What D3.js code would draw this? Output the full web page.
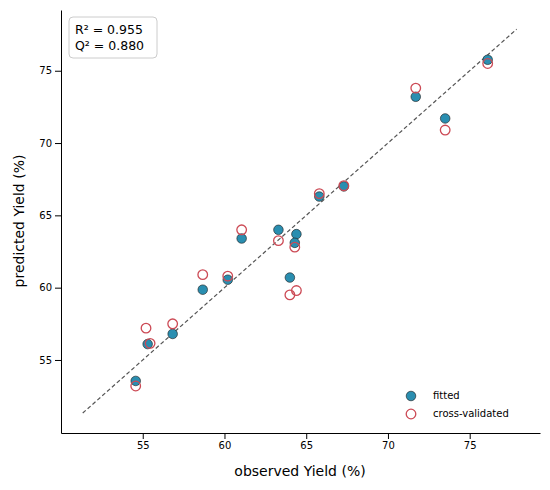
<!DOCTYPE html><html><head><meta charset="utf-8"><script src="https://cdn.jsdelivr.net/npm/d3@7"></script>
<style>body{margin:0;background:#fff}text{font-family:"DejaVu Sans",sans-serif}</style></head><body><svg id="c" width="550" height="490"></svg>
<script>
const observed=[54.57,55.3,56.83,58.67,60.2,61.05,63.3,64.4,64.3,64.0,65.8,67.3,71.7,73.5,76.1];
const fitted=[53.55,56.1,56.8,59.86,60.55,63.4,64.0,63.7,63.1,60.7,66.3,67.0,73.2,71.7,75.76];
const crossval=[53.2,57.2,57.5,60.9,60.8,64.0,63.25,59.8,62.8,59.5,66.5,67.05,73.8,70.9,75.5];
const observedCV=[54.57,55.2,56.83,58.67,60.2,61.05,63.3,64.4,64.3,64.0,65.8,67.3,71.7,73.5,76.1];
const extraObs=[55.45],extraCV=[56.15];
const xTicks=[55,60,65,70,75],yTicks=[55,60,65,70,75];
const svg=d3.select("#c");
const x=d3.scaleLinear().domain([50.0,79.3]).range([61,540]);
const y=d3.scaleLinear().domain([49.95,79.2]).range([433,10]);
svg.append("g").attr("transform","translate(0,433)").call(d3.axisBottom(x).tickValues(xTicks).tickSizeOuter(0)).call(g=>g.selectAll("text").attr("font-size",10).attr("fill","#000"));
svg.append("g").attr("transform","translate(61,0)").call(d3.axisLeft(y).tickValues(yTicks).tickSizeOuter(0)).call(g=>g.selectAll("text").attr("font-size",10).attr("fill","#000"));
svg.append("line").attr("x1",x(51.33)).attr("y1",y(51.33)).attr("x2",x(77.87)).attr("y2",y(77.87)).attr("stroke","#555").attr("stroke-dasharray","4,2.5").attr("stroke-width",1.2);
svg.selectAll(".f").data(observed).join("circle").attr("cx",d=>x(d)).attr("cy",(d,i)=>y(fitted[i])).attr("r",4.8).attr("fill","#2a8eb0").attr("stroke","#1a1a1a").attr("stroke-width",0.6);
const cvx=observedCV.concat(extraObs),cvy=crossval.concat(extraCV);
svg.selectAll(".v").data(cvx).join("circle").attr("cx",d=>x(d)).attr("cy",(d,i)=>y(cvy[i])).attr("r",4.8).attr("fill","none").attr("stroke","#cc4a55").attr("stroke-width",1.3);
svg.append("text").attr("x",300).attr("y",476).attr("text-anchor","middle").attr("font-size",14).text("observed Yield (%)");
svg.append("text").attr("transform","translate(24,221) rotate(-90)").attr("text-anchor","middle").attr("font-size",14).text("predicted Yield (%)");
svg.append("rect").attr("x",69).attr("y",17).attr("width",88).attr("height",41).attr("rx",4).attr("fill","#fff").attr("stroke","#ccc");
svg.append("text").attr("x",75).attr("y",34).attr("font-size",12.5).text("R² = 0.955");
svg.append("text").attr("x",75).attr("y",50).attr("font-size",12.5).text("Q² = 0.880");
svg.append("circle").attr("cx",411).attr("cy",396).attr("r",4.8).attr("fill","#2a8eb0").attr("stroke","#1a1a1a").attr("stroke-width",0.6);
svg.append("circle").attr("cx",411).attr("cy",414).attr("r",4.8).attr("fill","none").attr("stroke","#cc4a55").attr("stroke-width",1.3);
svg.append("text").attr("x",433).attr("y",399).attr("font-size",10).text("fitted");
svg.append("text").attr("x",433).attr("y",417).attr("font-size",10).text("cross-validated");
</script></body></html>
